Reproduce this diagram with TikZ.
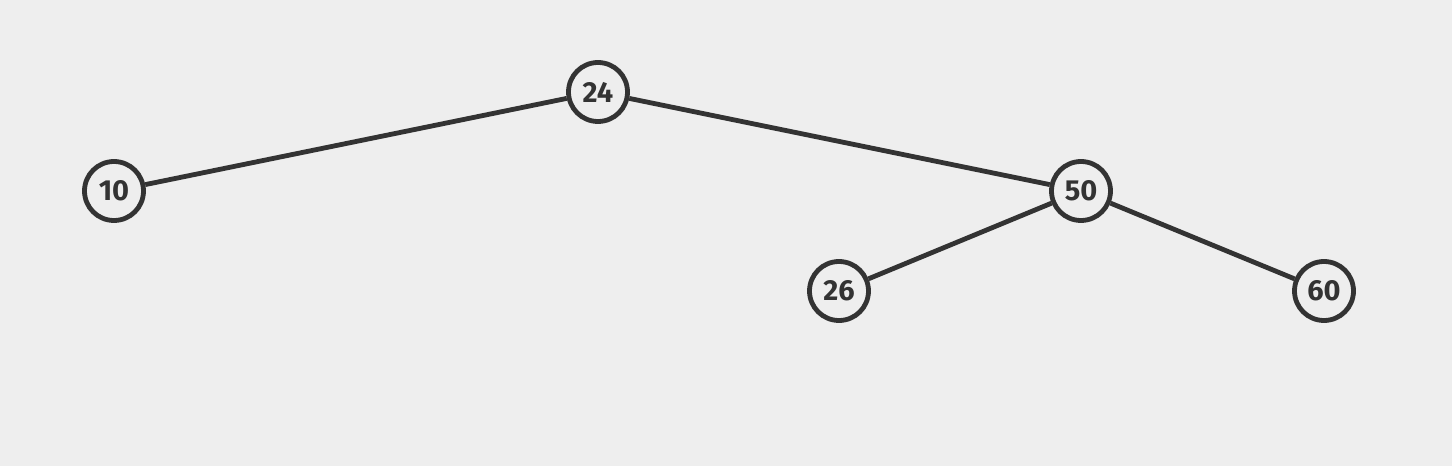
\documentclass[tikz,border=0pt]{standalone}
\usepackage{fontspec}
\setsansfont{Fira Sans}
\definecolor{bg}{HTML}{EEEEEE}
\definecolor{ink}{HTML}{333333}
\begin{document}
\begin{tikzpicture}[x=1pt,y=1pt,
  tnode/.style={circle,draw=ink,fill=bg,line width=4.8pt,minimum size=59pt,inner sep=0pt,
    text=ink,font=\sffamily\bfseries\fontsize{29}{32}\selectfont},
  edge/.style={draw=ink,line width=4.8pt}]
\fill[bg] (0,0) rectangle (1452,466);
\useasboundingbox (0,0) rectangle (1452,466);
\node[tnode] (n24) at (598,374) {24};
\node[tnode] (n10) at (114,275) {10};
\node[tnode] (n50) at (1081,275) {50};
\node[tnode] (n26) at (839,175) {26};
\node[tnode] (n60) at (1324,175) {60};
\draw[edge] (n24) -- (n10);
\draw[edge] (n24) -- (n50);
\draw[edge] (n50) -- (n26);
\draw[edge] (n50) -- (n60);
\end{tikzpicture}
\end{document}
